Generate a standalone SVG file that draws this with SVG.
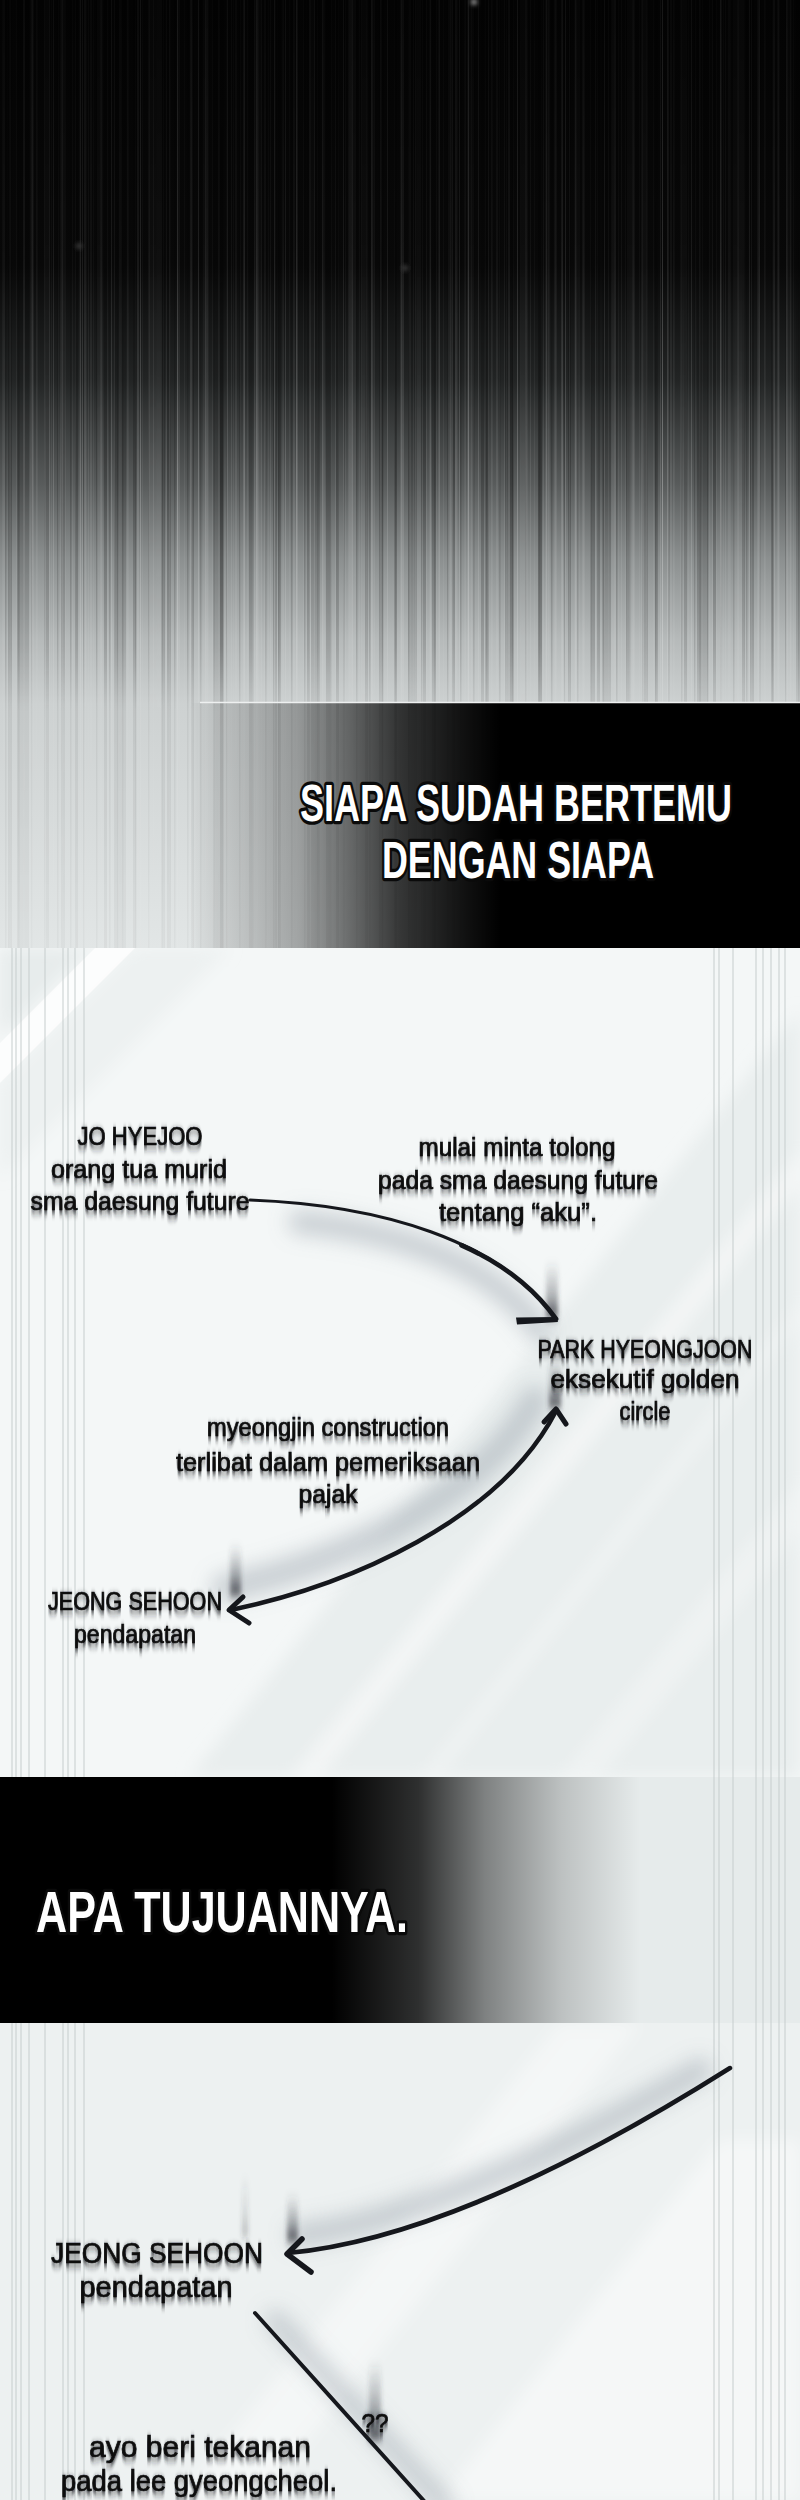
<svg xmlns="http://www.w3.org/2000/svg" width="800" height="2500" viewBox="0 0 800 2500">
<style>
.title{font-family:"Liberation Sans Narrow","Liberation Sans",Arial,sans-serif;font-weight:700;fill:#fff;stroke:#0a0a0a;stroke-width:4.5;stroke-linejoin:round;paint-order:stroke fill}
.lbl{font-family:"Liberation Sans Narrow","Liberation Sans",Arial,sans-serif;font-size:25px;fill:#0b0c0e;stroke:#0b0c0e;stroke-width:0.7;text-anchor:middle}
.lbl3{font-size:30px}
.conn{fill:none;stroke:#15171c;stroke-linecap:round;stroke-linejoin:round}
.edge{stroke:#c6cdcd;stroke-width:1}
.smearbar{fill:url(#smearGrad)}
.shade{fill:none;stroke:#929ba4;opacity:.42;stroke-linecap:round}
</style>
<defs>
<linearGradient id="topGrad" gradientUnits="userSpaceOnUse" x1="0" y1="0" x2="0" y2="948">
<stop offset="0" stop-color="#030303"/>
<stop offset="0.28" stop-color="#080808"/>
<stop offset="0.4" stop-color="#222424"/>
<stop offset="0.51" stop-color="#585b5b"/>
<stop offset="0.59" stop-color="#8c9090"/>
<stop offset="0.675" stop-color="#b6baba"/>
<stop offset="0.742" stop-color="#cdd1d1"/>
<stop offset="1" stop-color="#e2e6e6"/>
</linearGradient>
<linearGradient id="streakFade" gradientUnits="userSpaceOnUse" x1="0" y1="0" x2="0" y2="948">
<stop offset="0" stop-color="#fff" stop-opacity="0.2"/>
<stop offset="0.25" stop-color="#fff" stop-opacity="0.35"/>
<stop offset="0.5" stop-color="#fff" stop-opacity="0.75"/>
<stop offset="0.68" stop-color="#fff" stop-opacity="0.55"/>
<stop offset="0.75" stop-color="#fff" stop-opacity="0.22"/>
<stop offset="1" stop-color="#fff" stop-opacity="0.12"/>
</linearGradient>
<mask id="streakMask"><rect x="0" y="0" width="800" height="948" fill="url(#streakFade)"/></mask>
<pattern id="pA" patternUnits="userSpaceOnUse" width="7" height="10"><rect x="2" y="0" width="1" height="10" fill="#fff" fill-opacity="0.08"/></pattern>
<pattern id="pB" patternUnits="userSpaceOnUse" width="13" height="10"><rect x="5" y="0" width="1.5" height="10" fill="#000" fill-opacity="0.22"/><rect x="10" y="0" width="0.8" height="10" fill="#fff" fill-opacity="0.14"/></pattern>
<pattern id="pC" patternUnits="userSpaceOnUse" width="29" height="10"><rect x="3" y="0" width="2" height="10" fill="#fff" fill-opacity="0.11"/><rect x="17" y="0" width="3" height="10" fill="#000" fill-opacity="0.28"/><rect x="24" y="0" width="1" height="10" fill="#fff" fill-opacity="0.2"/></pattern>
<pattern id="pD" patternUnits="userSpaceOnUse" width="53" height="10"><rect x="8" y="0" width="4" height="10" fill="#000" fill-opacity="0.28"/><rect x="31" y="0" width="2" height="10" fill="#fff" fill-opacity="0.17"/><rect x="44" y="0" width="6" height="10" fill="#fff" fill-opacity="0.07"/></pattern>
<pattern id="pE" patternUnits="userSpaceOnUse" width="97" height="10"><rect x="20" y="0" width="9" height="10" fill="#000" fill-opacity="0.22"/><rect x="60" y="0" width="5" height="10" fill="#fff" fill-opacity="0.09"/><rect x="80" y="0" width="1" height="10" fill="#fff" fill-opacity="0.25"/></pattern>
<linearGradient id="b1" gradientUnits="userSpaceOnUse" x1="190" y1="0" x2="500" y2="0">
<stop offset="0" stop-color="#000" stop-opacity="0"/>
<stop offset="0.035" stop-color="#000" stop-opacity="0.05"/>
<stop offset="0.355" stop-color="#000" stop-opacity="0.29"/>
<stop offset="0.516" stop-color="#000" stop-opacity="0.53"/>
<stop offset="0.677" stop-color="#000" stop-opacity="0.76"/>
<stop offset="0.894" stop-color="#000" stop-opacity="0.93"/>
<stop offset="1" stop-color="#000" stop-opacity="1"/>
</linearGradient>
<linearGradient id="b2" gradientUnits="userSpaceOnUse" x1="640" y1="0" x2="332" y2="0">
<stop offset="0" stop-color="#000" stop-opacity="0"/>
<stop offset="0.256" stop-color="#000" stop-opacity="0.18"/>
<stop offset="0.503" stop-color="#000" stop-opacity="0.45"/>
<stop offset="0.72" stop-color="#000" stop-opacity="0.8"/>
<stop offset="1" stop-color="#000" stop-opacity="1"/>
</linearGradient>
<linearGradient id="smearGrad" x1="0" y1="0" x2="0" y2="1">
<stop offset="0" stop-color="#3d4148" stop-opacity="0"/>
<stop offset="0.6" stop-color="#3d4148" stop-opacity="0.35"/>
<stop offset="1" stop-color="#2a2d33" stop-opacity="0.8"/>
</linearGradient>
<linearGradient id="a3" gradientUnits="userSpaceOnUse" x1="730" y1="2068" x2="580" y2="2160">
<stop offset="0" stop-color="#9aa0a8"/>
<stop offset="1" stop-color="#15171c"/>
</linearGradient>
<linearGradient id="a4" gradientUnits="userSpaceOnUse" x1="255" y1="2313" x2="320" y2="2385">
<stop offset="0" stop-color="#7d838c"/>
<stop offset="1" stop-color="#15171c"/>
</linearGradient>
<clipPath id="clipP2"><rect x="0" y="948" width="800" height="829"/></clipPath>
<clipPath id="clipP3"><rect x="0" y="2023" width="800" height="477"/></clipPath>
<filter id="smear" x="-5%" y="-40%" width="110%" height="190%">
<feGaussianBlur in="SourceAlpha" stdDeviation="0.5 3.6" result="b"/>
<feOffset in="b" dy="3" result="o"/>
<feFlood flood-color="#1e2024" flood-opacity="0.9"/>
<feComposite in2="o" operator="in" result="s"/>
<feMerge><feMergeNode in="s"/><feMergeNode in="SourceGraphic"/></feMerge>
</filter>
<filter id="soft" x="-30%" y="-30%" width="160%" height="160%"><feGaussianBlur stdDeviation="10"/></filter>
<filter id="bgsoft" x="-10%" y="-10%" width="120%" height="120%"><feGaussianBlur stdDeviation="8"/></filter>
<filter id="vblur" x="-150%" y="-50%" width="400%" height="200%"><feGaussianBlur stdDeviation="2.2 5"/></filter>
<filter id="spot" x="-100%" y="-100%" width="300%" height="300%"><feGaussianBlur stdDeviation="2"/></filter>
</defs>

<!-- top streak section -->
<g id="top-section">
<rect x="0" y="0" width="800" height="948" fill="url(#topGrad)"/>
<g mask="url(#streakMask)">
<rect x="0" y="0" width="800" height="948" fill="url(#pA)"/>
<rect x="0" y="0" width="800" height="948" fill="url(#pB)"/>
<rect x="0" y="0" width="800" height="948" fill="url(#pC)"/>
<rect x="0" y="0" width="800" height="948" fill="url(#pD)"/>
<rect x="0" y="0" width="800" height="948" fill="url(#pE)"/>
</g>
<g filter="url(#spot)">
<circle cx="474" cy="2" r="3" fill="#9a9a9a"/>
<circle cx="79" cy="246" r="3" fill="#3a3a3a"/>
<circle cx="405" cy="268" r="3" fill="#3a3a3a"/>
</g>
</g>

<!-- banner 1 -->
<g id="banner-1">
<rect x="190" y="703" width="610" height="245" fill="url(#b1)"/>
<line x1="200" y1="702.5" x2="800" y2="702.5" stroke="#eef0f0" stroke-width="1.5"/>
<text class="title" transform="translate(516,821) scale(1,1.48)" x="0" y="0" font-size="35" text-anchor="middle" textLength="432" lengthAdjust="spacingAndGlyphs">SIAPA SUDAH BERTEMU</text>
<text class="title" transform="translate(518,878) scale(1,1.48)" x="0" y="0" font-size="35" text-anchor="middle" textLength="272" lengthAdjust="spacingAndGlyphs">DENGAN SIAPA</text>
</g>

<!-- panel 2 background -->
<g id="panel-2-bg" clip-path="url(#clipP2)">
<rect x="0" y="948" width="800" height="829" fill="#f4f7f7"/>
<g filter="url(#bgsoft)">
<polygon points="0,948 90,948 0,1038" fill="#cfd6d6" fill-opacity="0.35"/>
<polygon points="135,948 230,948 0,1178 0,1083" fill="#dfe5e5" fill-opacity="0.35"/>
<polygon points="800,1010 800,1777 190,1777" fill="#e4e9e9" fill-opacity="0.7"/>
<polygon points="800,1150 800,1185 320,1777 290,1777" fill="#fff" fill-opacity="0.45"/>
<polygon points="800,1300 800,1322 440,1777 420,1777" fill="#fff" fill-opacity="0.3"/>
<polygon points="800,1480 800,1530 600,1777 560,1777" fill="#fff" fill-opacity="0.3"/>
</g>
<polygon points="95,948 135,948 0,1083 0,1043" fill="#fff" fill-opacity="0.75"/>
</g>

<!-- band between panels (behind banner 2) -->
<rect x="0" y="1777" width="800" height="246" fill="#e6ebeb"/>

<!-- panel 3 background -->
<g id="panel-3-bg" clip-path="url(#clipP3)">
<rect x="0" y="2023" width="800" height="477" fill="#edf1f1"/>
<g filter="url(#bgsoft)">
<polygon points="560,2023 640,2023 260,2500 180,2500" fill="#fff" fill-opacity="0.4"/>
<polygon points="720,2140 800,2140 800,2500 440,2500" fill="#fff" fill-opacity="0.45"/>
</g>
</g>

<!-- vertical edge streaks of panels 2 and 3 -->
<g id="edge-streaks" class="edge">
<line x1="12" y1="948" x2="12" y2="2500"/><line x1="16" y1="948" x2="16" y2="2500"/>
<line x1="21" y1="948" x2="21" y2="2500"/><line x1="29" y1="948" x2="29" y2="2500"/>
<line x1="45" y1="948" x2="45" y2="2500"/><line x1="63" y1="948" x2="63" y2="2500"/>
<line x1="68" y1="948" x2="68" y2="2500"/><line x1="75" y1="948" x2="75" y2="2500"/>
<line x1="84" y1="948" x2="84" y2="2500"/>
<line x1="714" y1="948" x2="714" y2="2500"/><line x1="719" y1="948" x2="719" y2="2500"/>
<line x1="733" y1="948" x2="733" y2="2500"/><line x1="756" y1="948" x2="756" y2="2500"/>
<line x1="763" y1="948" x2="763" y2="2500"/><line x1="771" y1="948" x2="771" y2="2500"/>
<line x1="779" y1="948" x2="779" y2="2500"/><line x1="785" y1="948" x2="785" y2="2500"/>
</g>

<!-- banner 2 -->
<g id="banner-2">
<rect x="0" y="1777" width="640" height="246" fill="url(#b2)"/>
<text class="title" transform="translate(36,1932) scale(1,1.42)" x="0" y="0" font-size="41" textLength="372" lengthAdjust="spacingAndGlyphs">APA TUJUANNYA.</text>
</g>

<!-- connectors -->
<g id="connectors">
<g filter="url(#soft)">
<path class="shade" d="M300,1222 C400,1232 490,1262 540,1330" stroke-width="24"/>
<path class="shade" d="M225,1588 C335,1565 480,1500 535,1400" stroke-width="28"/>
<path class="shade" d="M700,2070 C580,2140 420,2220 300,2235" stroke-width="24"/>
<path class="shade" d="M275,2320 L445,2505" stroke-width="20"/>
</g>
<g filter="url(#vblur)">
<rect class="smearbar" x="546" y="1262" width="12" height="56"/>
<rect class="smearbar" x="549" y="1356" width="12" height="52"/>
<rect class="smearbar" x="230" y="1544" width="11" height="52"/>
<rect class="smearbar" x="287" y="2194" width="11" height="48"/>
<rect class="smearbar" x="369" y="2362" width="12" height="78"/>
<rect class="smearbar" x="242" y="2175" width="6" height="62" opacity="0.35"/>
</g>
<!-- JO HYEJOO -> PARK HYEONGJOON -->
<path id="edge-jo-park" class="conn" d="M250,1200 C380,1205 500,1240 556,1319" stroke-width="3.2"/>
<path class="conn" d="M461.5,1245.2 C501,1262.8 533.6,1287.4 556,1319" stroke-width="4.8"/>
<polygon points="516,1317.5 556,1317 558,1322 517,1324.5" fill="#15171c"/>
<!-- JEONG SEHOON <-> PARK HYEONGJOON -->
<path id="edge-jeong-park" class="conn" d="M231,1610 C350,1585 500,1520 556,1411" stroke-width="4.5"/>
<path class="conn" d="M544,1422 L556,1409 L566,1424" stroke-width="5"/>
<path class="conn" d="M243,1597 L229,1610 L249,1623" stroke-width="5"/>
<!-- panel 3 arrow into JEONG SEHOON -->
<path id="edge-to-jeong" class="conn" d="M730,2068 C600,2150 430,2240 288,2253" stroke="url(#a3)" stroke-width="4.5"/>
<path class="conn" d="M302,2239 L287,2254 L311,2272" stroke-width="5.5"/>
<!-- line from JEONG SEHOON downward -->
<path id="edge-jeong-down" class="conn" d="M255,2313 L434,2512" stroke="url(#a4)" stroke-width="4"/>
</g>

<!-- nodes and labels -->
<g id="node-jo-hyejoo" class="lbl" filter="url(#smear)">
<text x="140" y="1145" textLength="125" lengthAdjust="spacingAndGlyphs">JO HYEJOO</text>
<text x="139" y="1178" textLength="176" lengthAdjust="spacingAndGlyphs">orang tua murid</text>
<text x="140" y="1210" textLength="219" lengthAdjust="spacingAndGlyphs">sma daesung future</text>
</g>
<g id="label-minta-tolong" class="lbl" filter="url(#smear)">
<text x="517" y="1156" textLength="197" lengthAdjust="spacingAndGlyphs">mulai minta tolong</text>
<text x="518" y="1189" textLength="280" lengthAdjust="spacingAndGlyphs">pada sma daesung future</text>
<text x="518" y="1221" textLength="158" lengthAdjust="spacingAndGlyphs">tentang “aku”.</text>
</g>
<g id="node-park-hyeongjoon" class="lbl" filter="url(#smear)">
<text x="645" y="1358" textLength="215" lengthAdjust="spacingAndGlyphs">PARK HYEONGJOON</text>
<text x="645" y="1388" textLength="189" lengthAdjust="spacingAndGlyphs">eksekutif golden</text>
<text x="645" y="1420" textLength="51" lengthAdjust="spacingAndGlyphs">circle</text>
</g>
<g id="label-myeongjin" class="lbl" filter="url(#smear)">
<text x="328" y="1436" textLength="242" lengthAdjust="spacingAndGlyphs">myeongjin construction</text>
<text x="328" y="1471" textLength="304" lengthAdjust="spacingAndGlyphs">terlibat dalam pemeriksaan</text>
<text x="328" y="1503" textLength="59" lengthAdjust="spacingAndGlyphs">pajak</text>
</g>
<g id="node-jeong-sehoon" class="lbl" filter="url(#smear)">
<text x="135" y="1610" textLength="174" lengthAdjust="spacingAndGlyphs">JEONG SEHOON</text>
<text x="135" y="1643" textLength="122" lengthAdjust="spacingAndGlyphs">pendapatan</text>
</g>
<g id="node-jeong-sehoon-2" class="lbl lbl3" filter="url(#smear)">
<text x="157" y="2263" textLength="212" lengthAdjust="spacingAndGlyphs">JEONG SEHOON</text>
<text x="156" y="2297" textLength="153" lengthAdjust="spacingAndGlyphs">pendapatan</text>
</g>
<g id="label-qq" class="lbl" filter="url(#smear)">
<text x="375" y="2432" font-size="26" textLength="27" lengthAdjust="spacingAndGlyphs">??</text>
</g>
<g id="label-tekanan" class="lbl lbl3" filter="url(#smear)">
<text x="200" y="2457" textLength="222" lengthAdjust="spacingAndGlyphs">ayo beri tekanan</text>
<text x="199" y="2491" textLength="276" lengthAdjust="spacingAndGlyphs">pada lee gyeongcheol.</text>
</g>
</svg>
